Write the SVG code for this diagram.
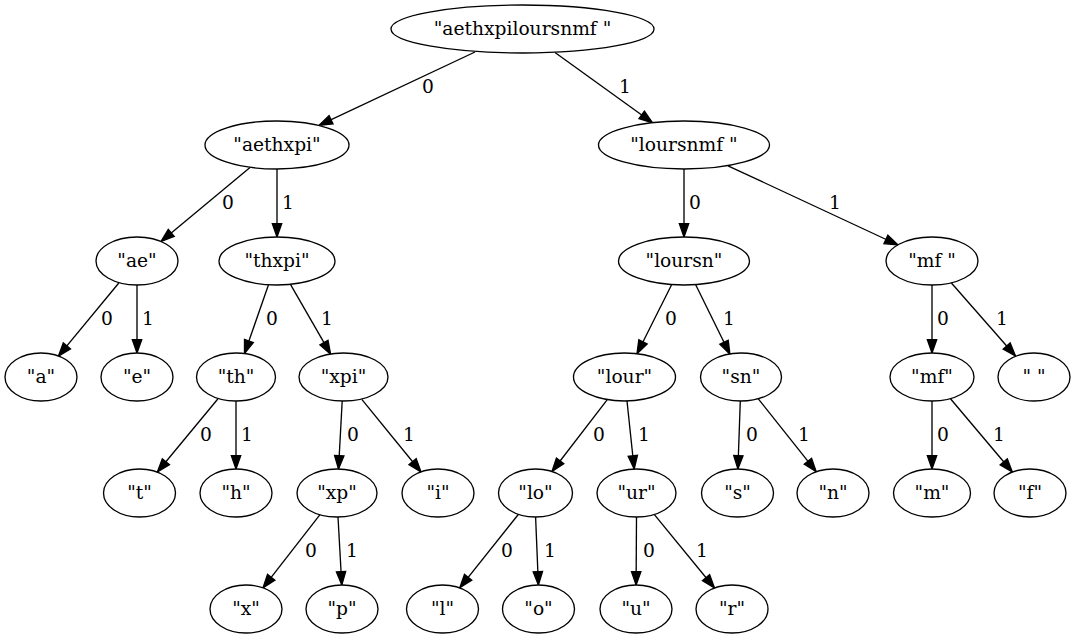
<svg xmlns="http://www.w3.org/2000/svg" width="1076" height="639" viewBox="0 0 1076 639" font-family="'DejaVu Serif', serif">
<defs>
<style>
ellipse{fill:#fff;stroke:#000;stroke-width:1.33}
text{font-family:'DejaVu Serif',serif;font-size:18.67px;text-anchor:middle;fill:#000}
.edges line{stroke:#000;stroke-width:1.33;marker-end:url(#arr)}
</style>
<marker id="arr" markerUnits="userSpaceOnUse" markerWidth="16" markerHeight="12" refX="13.33" refY="4.67" orient="auto" overflow="visible">
<path d="M0,0 L13.33,4.67 L0,9.33 Z" fill="#000" stroke="#000" stroke-width="1.33"/>
</marker>
</defs>
<rect width="1076" height="639" fill="#fff"/>
<g class="edges">
<line x1="475" y1="52" x2="319" y2="125.4"/>
<line x1="555" y1="52.5" x2="652.5" y2="122.7"/>
<line x1="250" y1="167.5" x2="161" y2="241.4"/>
<line x1="277" y1="169" x2="277" y2="237"/>
<line x1="684" y1="169" x2="684" y2="237"/>
<line x1="728" y1="165.8" x2="898" y2="245"/>
<line x1="118.8" y1="283" x2="58.4" y2="356.2"/>
<line x1="137" y1="285" x2="137" y2="353"/>
<line x1="268.5" y1="284.8" x2="244.5" y2="353.6"/>
<line x1="290.6" y1="284.6" x2="330.6" y2="354.2"/>
<line x1="671.6" y1="284.8" x2="637" y2="353.8"/>
<line x1="695.7" y1="284.7" x2="729.9" y2="354.2"/>
<line x1="932" y1="285" x2="932" y2="353"/>
<line x1="951.4" y1="283" x2="1015.5" y2="356"/>
<line x1="217.8" y1="399" x2="157.4" y2="472"/>
<line x1="236" y1="401" x2="236" y2="469"/>
<line x1="342.2" y1="401" x2="338.5" y2="469"/>
<line x1="361.8" y1="399.3" x2="421" y2="472"/>
<line x1="607.1" y1="399.8" x2="552" y2="471.5"/>
<line x1="627" y1="401" x2="634.2" y2="469"/>
<line x1="740.3" y1="401" x2="737.9" y2="469"/>
<line x1="758.3" y1="398.9" x2="816.2" y2="471.6"/>
<line x1="932" y1="401" x2="932" y2="469"/>
<line x1="950.5" y1="398.8" x2="1012.3" y2="472"/>
<line x1="319.8" y1="514.9" x2="263" y2="587.8"/>
<line x1="338" y1="517" x2="341.8" y2="585"/>
<line x1="518.3" y1="514.5" x2="459.8" y2="587.8"/>
<line x1="535.6" y1="517" x2="538.4" y2="585"/>
<line x1="636.5" y1="517" x2="636.1" y2="585"/>
<line x1="654.4" y1="514.7" x2="714.5" y2="588"/>
</g>
<g class="lbl" font-family="'DejaVu Serif', serif">
<text x="428" y="92.5">0</text><text x="625" y="92.5">1</text>
<text x="228" y="208.5">0</text><text x="288" y="208.5">1</text>
<text x="695" y="208.5">0</text><text x="835" y="208.5">1</text>
<text x="107" y="324.5">0</text><text x="148" y="324.5">1</text>
<text x="272" y="324.5">0</text><text x="327" y="324.5">1</text>
<text x="671" y="324.5">0</text><text x="729" y="324.5">1</text>
<text x="943" y="324.5">0</text><text x="1002" y="324.5">1</text>
<text x="206" y="440.5">0</text><text x="247" y="440.5">1</text>
<text x="353" y="440.5">0</text><text x="409" y="440.5">1</text>
<text x="599" y="440.5">0</text><text x="644" y="440.5">1</text>
<text x="752" y="440.5">0</text><text x="804" y="440.5">1</text>
<text x="943" y="440.5">0</text><text x="999" y="440.5">1</text>
<text x="311" y="556.5">0</text><text x="352" y="556.5">1</text>
<text x="507" y="556.5">0</text><text x="550" y="556.5">1</text>
<text x="649" y="556.5">0</text><text x="702" y="556.5">1</text>
</g>
<g id="root"><ellipse cx="522.5" cy="29" rx="131.5" ry="24"/><text x="522.5" y="34.5">"aethxpiloursnmf "</text></g>
<g id="aethxpi"><ellipse cx="277" cy="145" rx="72" ry="24"/><text x="277" y="150.5">"aethxpi"</text></g>
<g id="loursnmf"><ellipse cx="684" cy="145" rx="85.5" ry="24"/><text x="684" y="150.5">"loursnmf "</text></g>
<g id="ae"><ellipse cx="137" cy="261" rx="41" ry="24"/><text x="137" y="266.5">"ae"</text></g>
<g id="thxpi"><ellipse cx="277" cy="261" rx="58" ry="24"/><text x="277" y="266.5">"thxpi"</text></g>
<g id="loursn"><ellipse cx="684" cy="261" rx="65.5" ry="24"/><text x="684" y="266.5">"loursn"</text></g>
<g id="mf_sp"><ellipse cx="932" cy="261" rx="46" ry="24"/><text x="932" y="266.5">"mf "</text></g>
<g id="a"><ellipse cx="41" cy="377" rx="36" ry="24"/><text x="41" y="382.5">"a"</text></g>
<g id="e"><ellipse cx="137" cy="377" rx="36" ry="24"/><text x="137" y="382.5">"e"</text></g>
<g id="th"><ellipse cx="236" cy="377" rx="39.5" ry="24"/><text x="236" y="382.5">"th"</text></g>
<g id="xpi"><ellipse cx="343.5" cy="377" rx="44.5" ry="24"/><text x="343.5" y="382.5">"xpi"</text></g>
<g id="lour"><ellipse cx="624.5" cy="377" rx="51" ry="24"/><text x="624.5" y="382.5">"lour"</text></g>
<g id="sn"><ellipse cx="741" cy="377" rx="40.5" ry="24"/><text x="741" y="382.5">"sn"</text></g>
<g id="mf"><ellipse cx="932" cy="377" rx="42" ry="24"/><text x="932" y="382.5">"mf"</text></g>
<g id="space"><ellipse cx="1034" cy="377" rx="36" ry="24"/><text x="1034" y="382.5" xml:space="preserve">" "</text></g>
<g id="t"><ellipse cx="139.5" cy="493" rx="36" ry="24"/><text x="139.5" y="498.5">"t"</text></g>
<g id="h"><ellipse cx="236" cy="493" rx="36" ry="24"/><text x="236" y="498.5">"h"</text></g>
<g id="xp"><ellipse cx="337" cy="493" rx="40" ry="24"/><text x="337" y="498.5">"xp"</text></g>
<g id="i"><ellipse cx="438" cy="493" rx="36" ry="24"/><text x="438" y="498.5">"i"</text></g>
<g id="lo"><ellipse cx="535.5" cy="493" rx="37" ry="24"/><text x="535.5" y="498.5">"lo"</text></g>
<g id="ur"><ellipse cx="636.5" cy="493" rx="39.5" ry="24"/><text x="636.5" y="498.5">"ur"</text></g>
<g id="s"><ellipse cx="737.5" cy="493" rx="36" ry="24"/><text x="737.5" y="498.5">"s"</text></g>
<g id="n"><ellipse cx="833" cy="493" rx="36" ry="24"/><text x="833" y="498.5">"n"</text></g>
<g id="m"><ellipse cx="932" cy="493" rx="38.5" ry="24"/><text x="932" y="498.5">"m"</text></g>
<g id="f"><ellipse cx="1030" cy="493" rx="36" ry="24"/><text x="1030" y="498.5">"f"</text></g>
<g id="x"><ellipse cx="246" cy="609" rx="36" ry="24"/><text x="246" y="614.5">"x"</text></g>
<g id="p"><ellipse cx="342" cy="609" rx="36" ry="24"/><text x="342" y="614.5">"p"</text></g>
<g id="l"><ellipse cx="442.5" cy="609" rx="36" ry="24"/><text x="442.5" y="614.5">"l"</text></g>
<g id="o"><ellipse cx="538.5" cy="609" rx="36" ry="24"/><text x="538.5" y="614.5">"o"</text></g>
<g id="u"><ellipse cx="636" cy="609" rx="36" ry="24"/><text x="636" y="614.5">"u"</text></g>
<g id="r"><ellipse cx="732" cy="609" rx="36" ry="24"/><text x="732" y="614.5">"r"</text></g>
</svg>
